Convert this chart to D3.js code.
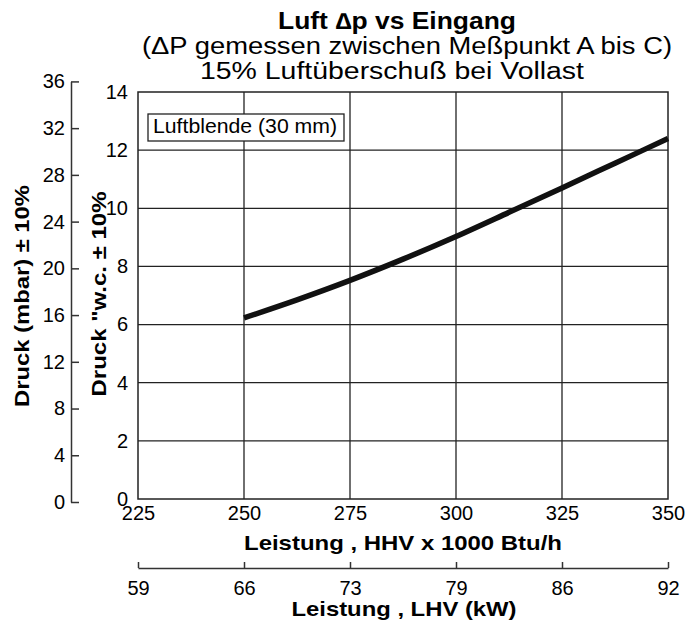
<!DOCTYPE html>
<html>
<head>
<meta charset="utf-8">
<script src="https://cdn.jsdelivr.net/npm/d3@7"></script>
<style>
  body { margin: 0; background: #fff; }
  svg { font-family: "Liberation Sans", Arial, sans-serif; }
</style>
</head>
<body>
<svg width="686" height="621"></svg>
<script>
// Werte der Kurve (Leistung HHV x 1000 Btu/h, Druck "w.c.)
const leistung = [250, 262.5, 275, 287.5, 300, 312.5, 325, 337.5, 350];
const druck = [6.23, 6.85, 7.52, 8.25, 9.03, 9.86, 10.7, 11.55, 12.4];

const xTicks = [225, 250, 275, 300, 325, 350];
const yTicks = [0, 2, 4, 6, 8, 10, 12, 14];
const mbarTicks = [0, 4, 8, 12, 16, 20, 24, 28, 32, 36];
const lhvLabels = ["59", "66", "73", "79", "86", "92"];

const titel = ["Luft \u2206p vs Eingang", "(\u0394P gemessen zwischen Meßpunkt A bis C)", "15% Luftüberschuß bei Vollast"];
const legende = "Luftblende (30 mm)";
const mbarProZoll = 2.4884;

const svg = d3.select("svg");
const pL = 138, pR = 668, pT = 92, pB = 499;

const x = d3.scaleLinear().domain([225, 350]).range([pL, pR]);
const y = d3.scaleLinear().domain([0, 14]).range([pB, pT]);
// mbar-Achse: gleiche Skala, umgerechnet
const yMbar = d3.scaleLinear().domain([0, 36]).range([pB + 3, y(36 / mbarProZoll) + 3]);

// Text mit fester Breite (die Vorlage ist etwas breiter gesetzt)
function label(cx, cy, txt, size, bold, breite) {
  return svg.append("text").attr("x", cx).attr("y", cy).attr("text-anchor", "middle")
    .attr("font-size", size).attr("font-weight", bold ? "bold" : null)
    .attr("textLength", breite).attr("lengthAdjust", "spacingAndGlyphs").text(txt);
}

// Titel
label(397, 29, titel[0], 23, true, 238);
label(407, 54, titel[1], 23, false, 530);
label(392, 79, titel[2], 23, false, 384);

// Gitter
const grid = svg.append("g").attr("stroke", "#222").attr("stroke-width", 1.3);
grid.selectAll(".gx").data(xTicks.slice(1, -1)).join("line")
  .attr("x1", d => x(d)).attr("x2", d => x(d)).attr("y1", pT).attr("y2", pB);
grid.selectAll(".gy").data(yTicks.slice(1, -1)).join("line")
  .attr("y1", d => y(d)).attr("y2", d => y(d)).attr("x1", pL).attr("x2", pR);

svg.append("rect").attr("x", pL).attr("y", pT).attr("width", pR - pL).attr("height", pB - pT)
  .attr("fill", "none").attr("stroke", "#222").attr("stroke-width", 1.5);

// x-Achse HHV
const xAxis = svg.append("g").attr("transform", `translate(0,${pB})`)
  .call(d3.axisBottom(x).tickValues(xTicks).tickSize(0).tickPadding(7));
xAxis.select(".domain").remove();
xAxis.selectAll("text").attr("font-size", 20).attr("fill", "#000").attr("font-family", null);

label(403, 550, "Leistung , HHV x 1000 Btu/h", 21, true, 318);

// x-Achse LHV
const lhvY = 568;
const lhvAxis = svg.append("g").attr("transform", `translate(0,${lhvY})`)
  .call(d3.axisTop(x).tickValues(xTicks).tickSize(6).tickSizeOuter(0).tickFormat((d, i) => lhvLabels[i]));
lhvAxis.select(".domain").attr("stroke", "#333").attr("stroke-width", 1.5);
lhvAxis.selectAll("line").attr("stroke", "#333").attr("stroke-width", 1.5);
lhvAxis.selectAll("text").attr("font-size", 20).attr("fill", "#000").attr("font-family", null)
  .attr("y", 27);

label(404, 616, "Leistung , LHV (kW)", 21, true, 225);

// y-Achse "w.c.
const yAxis = svg.append("g").attr("transform", `translate(${pL},0)`)
  .call(d3.axisLeft(y).tickValues(yTicks).tickSize(0).tickPadding(10));
yAxis.select(".domain").remove();
yAxis.selectAll("text").attr("font-size", 20).attr("fill", "#000").attr("font-family", null);

// y-Achse mbar
const mbarX = 71;
const mAxis = svg.append("g").attr("transform", `translate(${mbarX},0)`)
  .call(d3.axisRight(yMbar).tickValues(mbarTicks).tickSize(8).tickSizeOuter(0));
mAxis.select(".domain").attr("stroke", "#333").attr("stroke-width", 1.5);
mAxis.selectAll("line").attr("stroke", "#333").attr("stroke-width", 1.5);
mAxis.selectAll("text").attr("font-size", 20).attr("fill", "#000").attr("font-family", null)
  .attr("x", -6).attr("text-anchor", "end");

svg.append("text").attr("transform", "translate(29,296) rotate(-90)").attr("text-anchor", "middle")
  .attr("font-size", 21).attr("font-weight", "bold")
  .attr("textLength", 222).attr("lengthAdjust", "spacingAndGlyphs").text("Druck (mbar) \u00b1 10%");
svg.append("text").attr("transform", "translate(106,294) rotate(-90)").attr("text-anchor", "middle")
  .attr("font-size", 21).attr("font-weight", "bold")
  .attr("textLength", 205).attr("lengthAdjust", "spacingAndGlyphs").text("Druck \"w.c. \u00b1 10%");

// Kurve
const pts = leistung.map((d, i) => [d, druck[i]]);
svg.append("path").datum(pts)
  .attr("fill", "none").attr("stroke", "#111").attr("stroke-width", 5.5)
  .attr("d", d3.line().x(d => x(d[0])).y(d => y(d[1])).curve(d3.curveMonotoneX));

// Legende
const lg = svg.append("g");
lg.append("rect").attr("x", 148).attr("y", 114).attr("width", 196).attr("height", 27)
  .attr("fill", "#fff").attr("stroke", "#222").attr("stroke-width", 1.3);
lg.append("text").attr("x", 153).attr("y", 133).attr("font-size", 21)
  .attr("textLength", 184).attr("lengthAdjust", "spacingAndGlyphs").text(legende);
</script>
</body>
</html>
